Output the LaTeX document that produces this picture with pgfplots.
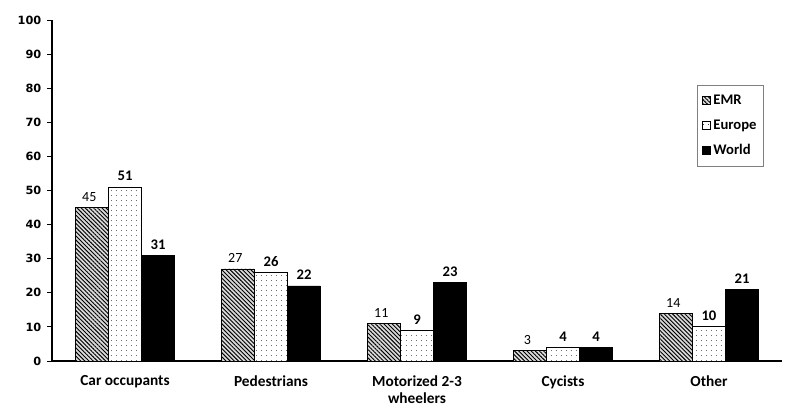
\documentclass[border=0pt]{standalone}
\usepackage{fontspec}
\setmainfont{Carlito}
\newfontfamily\dejavu{DejaVu Sans}
\usepackage{pgfplots}
\pgfplotsset{compat=1.18}
\usetikzlibrary{patterns.meta}
\begin{document}
\begin{tikzpicture}
\useasboundingbox (-39pt,-39pt) rectangle (550.5pt,270.75pt);
\begin{axis}[
  at={(0,0)}, anchor=south west,
  scale only axis,
  width=547.5pt, height=255.75pt,
  ybar=0pt, bar width=24.75pt,
  xmin=-0.5, xmax=4.5,
  ymin=0, ymax=100,
  ytick={0,10,...,100},
  xtick={0,1,2,3,4},
  xticklabels={Car occupants,Pedestrians,{Motorized 2-3\\wheelers},Cycists,Other},
  extra x ticks={0.5,1.5,2.5,3.5},
  extra x tick labels={},
  extra x tick style={major tick length=3.5pt, tick style={black, line width=0.6pt}},
  major x tick style={draw=none},
  axis x line=bottom, axis y line=left,
  axis line style={-, line width=0.8pt},
  tick align=outside,
  major tick length=3.5pt,
  ytick style={black, line width=0.6pt},
  /pgf/number format/assume math mode=true,
  yticklabel style={font=\dejavu\bfseries\fontsize{8.5}{10}\selectfont, xshift=-1pt},
  xticklabel style={font=\bfseries\fontsize{11.5}{12.5}\selectfont, align=center, yshift=-4pt},
  legend style={at={(rel axis cs:0.884,0.809)}, anchor=north west, draw=gray, line width=0.6pt,
    font=\bfseries\fontsize{11}{12}\selectfont, row sep=6pt, inner xsep=3pt, inner ysep=5pt,
    cells={anchor=west}},
  legend image code/.code={\draw[#1, line width=0.5pt] (0cm,-0.1cm) rectangle (0.22cm,0.12cm);},
  nodes near coords,
  every node near coord/.append style={font=\bfseries\fontsize{11}{12}\selectfont, yshift=1pt},
]
\addplot[draw=black, line width=0.6pt, fill=gray!30, postaction={pattern={Lines[angle=-45,distance=2.2pt,line width=0.7pt]}},
  every node near coord/.append style={font=\mdseries\fontsize{10.5}{12}\selectfont, xshift=-2pt}]
  coordinates {(0,45) (1,27) (2,11) (3,3) (4,14)};
\addplot[draw=black, line width=0.6pt, fill=white, postaction={pattern={Dots[distance=4pt,radius=0.35pt]}}]
  coordinates {(0,51) (1,26) (2,9) (3,4) (4,10)};
\addplot[draw=black, line width=0.6pt, fill=black]
  coordinates {(0,31) (1,22) (2,23) (3,4) (4,21)};
\legend{EMR,Europe,World}
\end{axis}
\end{tikzpicture}
\end{document}
